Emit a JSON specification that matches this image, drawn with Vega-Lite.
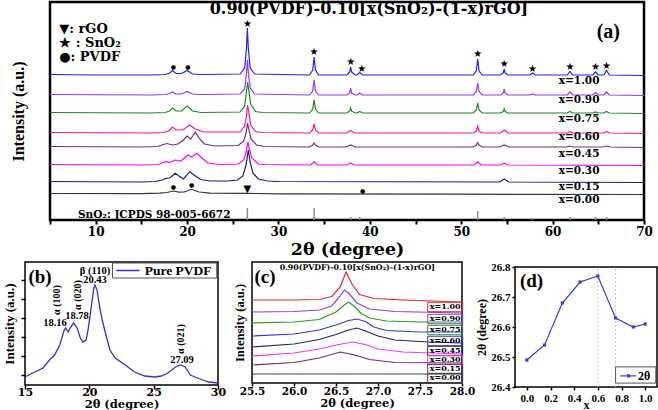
{
"$schema": "https://vega.github.io/schema/vega-lite/v6.json",
"width": 658, "height": 410, "autosize": "none", "padding": 0, "background": "white",
"config": {"view": {"stroke": null}, "axis": {"grid": false, "domain": false, "labelColor": "black", "titleColor": "black", "tickColor": "black", "labelFlush": false, "labelOverlap": false}},
"datasets": {
"a": [
{"s":"1.00","a":5,"v":145.5},{"s":"1.00","a":10,"v":145},{"s":"1.00","a":16,"v":145},{"s":"1.00","a":17.6,"v":145.5},{"s":"1.00","a":18.1,"v":147},{"s":"1.00","a":18.4,"v":149.5},{"s":"1.00","a":18.8,"v":146.5},{"s":"1.00","a":19.4,"v":146.5},{"s":"1.00","a":20.0,"v":149.5},{"s":"1.00","a":20.6,"v":146},{"s":"1.00","a":21.5,"v":145.5},{"s":"1.00","a":25.8,"v":146},{"s":"1.00","a":26.3,"v":152},{"s":"1.00","a":26.5,"v":172},{"s":"1.00","a":26.6,"v":192},{"s":"1.00","a":26.7,"v":172},{"s":"1.00","a":26.9,"v":152},{"s":"1.00","a":27.4,"v":146},{"s":"1.00","a":33.4,"v":145},{"s":"1.00","a":33.75,"v":150},{"s":"1.00","a":33.9,"v":163},{"s":"1.00","a":34.05,"v":150},{"s":"1.00","a":34.4,"v":145},{"s":"1.00","a":37.5,"v":145},{"s":"1.00","a":37.8,"v":148},{"s":"1.00","a":37.9,"v":153},{"s":"1.00","a":38.0,"v":148},{"s":"1.00","a":38.4,"v":145},{"s":"1.00","a":38.6,"v":145},{"s":"1.00","a":38.9,"v":147.5},{"s":"1.00","a":39.2,"v":145},{"s":"1.00","a":51.3,"v":145},{"s":"1.00","a":51.65,"v":149},{"s":"1.00","a":51.8,"v":161},{"s":"1.00","a":51.95,"v":149},{"s":"1.00","a":52.3,"v":145},{"s":"1.00","a":54.3,"v":145},{"s":"1.00","a":54.6,"v":147},{"s":"1.00","a":54.7,"v":151},{"s":"1.00","a":54.8,"v":147},{"s":"1.00","a":55.1,"v":145},{"s":"1.00","a":57.5,"v":145},{"s":"1.00","a":57.8,"v":147},{"s":"1.00","a":58.1,"v":145},{"s":"1.00","a":61.6,"v":145},{"s":"1.00","a":61.9,"v":148.5},{"s":"1.00","a":62.2,"v":145},{"s":"1.00","a":64.4,"v":145},{"s":"1.00","a":64.7,"v":148},{"s":"1.00","a":65.0,"v":145},{"s":"1.00","a":65.6,"v":145},{"s":"1.00","a":65.9,"v":149.5},{"s":"1.00","a":66.2,"v":145},{"s":"1.00","a":70,"v":144.5},
{"s":"0.90","a":5,"v":125.5},{"s":"0.90","a":16,"v":125},{"s":"0.90","a":17.6,"v":125.5},{"s":"0.90","a":18.1,"v":126.5},{"s":"0.90","a":18.4,"v":128},{"s":"0.90","a":18.8,"v":126},{"s":"0.90","a":19.4,"v":126},{"s":"0.90","a":20.0,"v":128.5},{"s":"0.90","a":20.6,"v":126},{"s":"0.90","a":21.5,"v":125.5},{"s":"0.90","a":25.8,"v":126},{"s":"0.90","a":26.3,"v":131},{"s":"0.90","a":26.5,"v":147},{"s":"0.90","a":26.6,"v":160},{"s":"0.90","a":26.7,"v":148},{"s":"0.90","a":26.9,"v":132},{"s":"0.90","a":27.4,"v":126},{"s":"0.90","a":33.4,"v":125},{"s":"0.90","a":33.75,"v":129},{"s":"0.90","a":33.9,"v":140},{"s":"0.90","a":34.05,"v":129},{"s":"0.90","a":34.4,"v":125},{"s":"0.90","a":37.5,"v":125},{"s":"0.90","a":37.8,"v":127},{"s":"0.90","a":37.9,"v":132},{"s":"0.90","a":38.0,"v":127},{"s":"0.90","a":38.4,"v":125},{"s":"0.90","a":38.6,"v":125},{"s":"0.90","a":38.9,"v":127},{"s":"0.90","a":39.2,"v":125},{"s":"0.90","a":51.3,"v":125},{"s":"0.90","a":51.65,"v":128.5},{"s":"0.90","a":51.8,"v":137},{"s":"0.90","a":51.95,"v":128.5},{"s":"0.90","a":52.3,"v":125},{"s":"0.90","a":54.3,"v":125},{"s":"0.90","a":54.6,"v":127},{"s":"0.90","a":54.7,"v":131},{"s":"0.90","a":54.8,"v":127},{"s":"0.90","a":55.1,"v":125},{"s":"0.90","a":57.5,"v":125},{"s":"0.90","a":57.8,"v":126},{"s":"0.90","a":58.1,"v":125},{"s":"0.90","a":61.6,"v":125},{"s":"0.90","a":61.9,"v":128},{"s":"0.90","a":62.2,"v":125},{"s":"0.90","a":64.4,"v":125},{"s":"0.90","a":64.7,"v":127.5},{"s":"0.90","a":65.0,"v":125},{"s":"0.90","a":65.6,"v":125},{"s":"0.90","a":65.9,"v":128},{"s":"0.90","a":66.2,"v":125},{"s":"0.90","a":70,"v":124.5},
{"s":"0.75","a":5,"v":107.5},{"s":"0.75","a":16,"v":107},{"s":"0.75","a":17.6,"v":107.5},{"s":"0.75","a":18.1,"v":109},{"s":"0.75","a":18.4,"v":112},{"s":"0.75","a":18.8,"v":109},{"s":"0.75","a":19.4,"v":109},{"s":"0.75","a":20.0,"v":114},{"s":"0.75","a":20.6,"v":109},{"s":"0.75","a":21.5,"v":107.5},{"s":"0.75","a":25.8,"v":108},{"s":"0.75","a":26.3,"v":114},{"s":"0.75","a":26.5,"v":128},{"s":"0.75","a":26.62,"v":138},{"s":"0.75","a":26.75,"v":130},{"s":"0.75","a":26.95,"v":116},{"s":"0.75","a":27.5,"v":108.5},{"s":"0.75","a":28.2,"v":107.5},{"s":"0.75","a":33.4,"v":107},{"s":"0.75","a":33.75,"v":111},{"s":"0.75","a":33.9,"v":120},{"s":"0.75","a":34.05,"v":111},{"s":"0.75","a":34.4,"v":107},{"s":"0.75","a":37.5,"v":107},{"s":"0.75","a":37.8,"v":109},{"s":"0.75","a":37.9,"v":112},{"s":"0.75","a":38.0,"v":109},{"s":"0.75","a":38.4,"v":107},{"s":"0.75","a":38.6,"v":107},{"s":"0.75","a":38.9,"v":108.5},{"s":"0.75","a":39.2,"v":107},{"s":"0.75","a":51.3,"v":107},{"s":"0.75","a":51.65,"v":110},{"s":"0.75","a":51.8,"v":117},{"s":"0.75","a":51.95,"v":110},{"s":"0.75","a":52.3,"v":107},{"s":"0.75","a":54.3,"v":107},{"s":"0.75","a":54.6,"v":108.5},{"s":"0.75","a":54.7,"v":111},{"s":"0.75","a":54.8,"v":108.5},{"s":"0.75","a":55.1,"v":107},{"s":"0.75","a":61.6,"v":107},{"s":"0.75","a":61.9,"v":108.5},{"s":"0.75","a":62.2,"v":107},{"s":"0.75","a":64.4,"v":107},{"s":"0.75","a":64.7,"v":108},{"s":"0.75","a":65.0,"v":107},{"s":"0.75","a":65.6,"v":107},{"s":"0.75","a":65.9,"v":108.5},{"s":"0.75","a":66.2,"v":107},{"s":"0.75","a":70,"v":106.5},
{"s":"0.60","a":5,"v":87.5},{"s":"0.60","a":16,"v":87},{"s":"0.60","a":17.4,"v":87.5},{"s":"0.60","a":18.0,"v":89},{"s":"0.60","a":18.4,"v":93},{"s":"0.60","a":18.8,"v":90},{"s":"0.60","a":19.5,"v":90},{"s":"0.60","a":20.3,"v":95},{"s":"0.60","a":20.9,"v":91},{"s":"0.60","a":21.8,"v":88},{"s":"0.60","a":25.8,"v":88},{"s":"0.60","a":26.3,"v":94},{"s":"0.60","a":26.5,"v":104},{"s":"0.60","a":26.62,"v":115},{"s":"0.60","a":26.75,"v":108},{"s":"0.60","a":26.95,"v":95},{"s":"0.60","a":27.5,"v":88.5},{"s":"0.60","a":28.2,"v":87.5},{"s":"0.60","a":33.4,"v":87},{"s":"0.60","a":33.75,"v":90},{"s":"0.60","a":33.9,"v":96},{"s":"0.60","a":34.05,"v":90},{"s":"0.60","a":34.4,"v":87},{"s":"0.60","a":37.5,"v":87},{"s":"0.60","a":37.9,"v":89.5},{"s":"0.60","a":38.3,"v":87},{"s":"0.60","a":51.3,"v":87},{"s":"0.60","a":51.65,"v":89},{"s":"0.60","a":51.8,"v":94},{"s":"0.60","a":51.95,"v":89},{"s":"0.60","a":52.3,"v":87},{"s":"0.60","a":54.3,"v":87},{"s":"0.60","a":54.7,"v":90},{"s":"0.60","a":55.1,"v":87},{"s":"0.60","a":61.6,"v":87},{"s":"0.60","a":61.9,"v":88.5},{"s":"0.60","a":62.2,"v":87},{"s":"0.60","a":65.6,"v":87},{"s":"0.60","a":65.9,"v":88.5},{"s":"0.60","a":66.2,"v":87},{"s":"0.60","a":70,"v":86.5},
{"s":"0.45","a":5,"v":73.5},{"s":"0.45","a":15,"v":73},{"s":"0.45","a":16.8,"v":73.5},{"s":"0.45","a":17.4,"v":75.5},{"s":"0.45","a":17.8,"v":76.5},{"s":"0.45","a":18.4,"v":75},{"s":"0.45","a":19.0,"v":76},{"s":"0.45","a":19.6,"v":80},{"s":"0.45","a":20.0,"v":84},{"s":"0.45","a":20.4,"v":81},{"s":"0.45","a":20.9,"v":88},{"s":"0.45","a":21.3,"v":82},{"s":"0.45","a":21.9,"v":76},{"s":"0.45","a":23,"v":74},{"s":"0.45","a":25.6,"v":74.5},{"s":"0.45","a":26.2,"v":79},{"s":"0.45","a":26.45,"v":87},{"s":"0.45","a":26.62,"v":97},{"s":"0.45","a":26.8,"v":89},{"s":"0.45","a":27.0,"v":81},{"s":"0.45","a":27.6,"v":75},{"s":"0.45","a":28.5,"v":73.5},{"s":"0.45","a":33.4,"v":73},{"s":"0.45","a":33.75,"v":75},{"s":"0.45","a":33.9,"v":77},{"s":"0.45","a":34.05,"v":75},{"s":"0.45","a":34.4,"v":73},{"s":"0.45","a":37.4,"v":73},{"s":"0.45","a":37.9,"v":75},{"s":"0.45","a":38.4,"v":73},{"s":"0.45","a":51.3,"v":73},{"s":"0.45","a":51.65,"v":75},{"s":"0.45","a":51.8,"v":77.3},{"s":"0.45","a":51.95,"v":75},{"s":"0.45","a":52.3,"v":73},{"s":"0.45","a":54.2,"v":73},{"s":"0.45","a":54.7,"v":75},{"s":"0.45","a":55.2,"v":73},{"s":"0.45","a":61.5,"v":73},{"s":"0.45","a":61.9,"v":74},{"s":"0.45","a":62.3,"v":73},{"s":"0.45","a":65.5,"v":73},{"s":"0.45","a":65.9,"v":74},{"s":"0.45","a":66.3,"v":73},{"s":"0.45","a":70,"v":72.5},
{"s":"0.30","a":5,"v":55.5},{"s":"0.30","a":15,"v":55},{"s":"0.30","a":16.8,"v":55.5},{"s":"0.30","a":17.4,"v":57.5},{"s":"0.30","a":17.7,"v":58.3},{"s":"0.30","a":18.1,"v":57.5},{"s":"0.30","a":18.7,"v":60},{"s":"0.30","a":19.3,"v":59},{"s":"0.30","a":20.1,"v":65},{"s":"0.30","a":20.5,"v":63},{"s":"0.30","a":21.1,"v":66.7},{"s":"0.30","a":21.6,"v":62},{"s":"0.30","a":22.3,"v":57},{"s":"0.30","a":23.5,"v":55.5},{"s":"0.30","a":25.6,"v":56},{"s":"0.30","a":26.2,"v":60},{"s":"0.30","a":26.45,"v":68},{"s":"0.30","a":26.65,"v":78},{"s":"0.30","a":26.85,"v":70},{"s":"0.30","a":27.1,"v":62},{"s":"0.30","a":27.8,"v":56},{"s":"0.30","a":28.6,"v":55.5},{"s":"0.30","a":33.5,"v":55},{"s":"0.30","a":33.9,"v":58.3},{"s":"0.30","a":34.3,"v":55},{"s":"0.30","a":37.5,"v":55},{"s":"0.30","a":37.9,"v":57},{"s":"0.30","a":38.3,"v":55},{"s":"0.30","a":51.4,"v":55},{"s":"0.30","a":51.8,"v":58.3},{"s":"0.30","a":52.2,"v":55},{"s":"0.30","a":54.3,"v":55},{"s":"0.30","a":54.7,"v":57},{"s":"0.30","a":55.1,"v":55},{"s":"0.30","a":70,"v":54.5},
{"s":"0.15","a":5,"v":38.5},{"s":"0.15","a":15,"v":38},{"s":"0.15","a":16.5,"v":38.5},{"s":"0.15","a":17.3,"v":40},{"s":"0.15","a":17.7,"v":41.7},{"s":"0.15","a":18.1,"v":42},{"s":"0.15","a":18.7,"v":46.7},{"s":"0.15","a":19.1,"v":44},{"s":"0.15","a":19.6,"v":41},{"s":"0.15","a":20.3,"v":48.3},{"s":"0.15","a":20.9,"v":44},{"s":"0.15","a":21.5,"v":40.5},{"s":"0.15","a":22.5,"v":39},{"s":"0.15","a":24.5,"v":39},{"s":"0.15","a":25.5,"v":40},{"s":"0.15","a":26.1,"v":44},{"s":"0.15","a":26.45,"v":55},{"s":"0.15","a":26.7,"v":70},{"s":"0.15","a":26.9,"v":58},{"s":"0.15","a":27.2,"v":47},{"s":"0.15","a":27.8,"v":41},{"s":"0.15","a":28.8,"v":39},{"s":"0.15","a":30,"v":38.5},{"s":"0.15","a":54.2,"v":38},{"s":"0.15","a":54.7,"v":41},{"s":"0.15","a":55.2,"v":38},{"s":"0.15","a":70,"v":37.5},
{"s":"0.00","a":5,"v":26.5},{"s":"0.00","a":15,"v":26.3},{"s":"0.00","a":17.0,"v":26.8},{"s":"0.00","a":17.8,"v":27.5},{"s":"0.00","a":18.5,"v":29},{"s":"0.00","a":19.1,"v":27.8},{"s":"0.00","a":19.7,"v":28},{"s":"0.00","a":20.5,"v":30.7},{"s":"0.00","a":21.3,"v":28},{"s":"0.00","a":22.5,"v":26.8},{"s":"0.00","a":26.6,"v":26.6},{"s":"0.00","a":30,"v":26.2},{"s":"0.00","a":50,"v":25.8},{"s":"0.00","a":70,"v":25.5}
],
"ams": [
{"a":26.6,"v":196,"m":"★"},{"a":33.9,"v":168,"m":"★"},{"a":37.9,"v":158,"m":"★"},{"a":39.1,"v":151,"m":"★"},{"a":51.8,"v":166,"m":"★"},{"a":54.7,"v":156,"m":"★"},{"a":57.8,"v":151,"m":"★"},{"a":61.9,"v":153,"m":"★"},{"a":64.7,"v":153,"m":"★"},{"a":65.9,"v":154,"m":"★"},{"a":26.6,"v":31,"m":"▼"}
],
"amd": [
{"a":18.5,"v":153,"m":"●"},{"a":20.1,"v":153,"m":"●"},{"a":18.5,"v":33,"m":"●"},{"a":20.5,"v":35,"m":"●"},{"a":39.2,"v":29.3,"m":"●"}
],
"ajc": [
{"a":26.6,"v":0,"h":12},{"a":33.9,"v":0,"h":12},{"a":37.9,"v":0,"h":3},{"a":38.9,"v":0,"h":3},{"a":51.8,"v":0,"h":9},{"a":54.7,"v":0,"h":3},{"a":57.8,"v":0,"h":2},{"a":61.9,"v":0,"h":3},{"a":64.7,"v":0,"h":3},{"a":65.9,"v":0,"h":3}
],
"al": [
{"a":62.9,"t":"x=1.00","v":139},{"a":62.9,"t":"x=0.90","v":120},{"a":62.9,"t":"x=0.75","v":101},{"a":62.9,"t":"x=0.60","v":83},{"a":62.9,"t":"x=0.45","v":66},{"a":62.9,"t":"x=0.30","v":49.3},{"a":62.9,"t":"x=0.15","v":33.3},{"a":62.9,"t":"x=0.00","v":20}
],
"aleg": [
{"a":6.0,"t":"▼: rGO","v":191},{"a":6.0,"t":"★ : SnO₂","v":177},{"a":6.0,"t":"●: PVDF","v":163}
],
"b": [
{"a":15.0,"v":8},{"a":15.6,"v":12},{"a":16.4,"v":17},{"a":16.9,"v":25},{"a":17.3,"v":30},{"a":17.7,"v":40},{"a":18.05,"v":55},{"a":18.16,"v":57},{"a":18.35,"v":53},{"a":18.5,"v":57},{"a":18.78,"v":62},{"a":19.05,"v":57},{"a":19.3,"v":47},{"a":19.5,"v":43},{"a":19.75,"v":45},{"a":19.9,"v":55},{"a":20.15,"v":78},{"a":20.35,"v":97},{"a":20.43,"v":100},{"a":20.6,"v":95},{"a":20.8,"v":78},{"a":21.0,"v":65},{"a":21.25,"v":52},{"a":21.6,"v":35},{"a":22.0,"v":27},{"a":22.8,"v":20},{"a":23.5,"v":13},{"a":24.3,"v":9},{"a":25.1,"v":8},{"a":25.6,"v":9},{"a":26.1,"v":12},{"a":26.7,"v":18},{"a":27.1,"v":20},{"a":27.45,"v":18},{"a":27.85,"v":10},{"a":28.2,"v":8},{"a":28.8,"v":5},{"a":29.3,"v":3},{"a":30.0,"v":2}
],
"bt": [
{"a":20.44,"v":114.5,"t":"β (110)"},{"a":20.44,"v":105,"t":"20.43"},{"a":17.33,"v":62,"t":"18.16"},{"a":19.04,"v":69,"t":"18.78"},{"a":27.2,"v":25,"t":"27.09"}
],
"br": [
{"a":17.45,"v":85,"t":"α (100)"},{"a":19.1,"v":90,"t":"α (020)"},{"a":27.12,"v":46,"t":"α (021)"}
],
"c": [
{"s":"1.00","a":25.5,"v":83},{"s":"1.00","a":26.0,"v":83},{"s":"1.00","a":26.3,"v":83.5},{"s":"1.00","a":26.45,"v":86.5},{"s":"1.00","a":26.55,"v":96},{"s":"1.00","a":26.62,"v":111},{"s":"1.00","a":26.69,"v":99},{"s":"1.00","a":26.78,"v":88.5},{"s":"1.00","a":26.95,"v":84.5},{"s":"1.00","a":27.3,"v":83},{"s":"1.00","a":28.0,"v":81},
{"s":"0.90","a":25.5,"v":71},{"s":"0.90","a":26.0,"v":71.5},{"s":"0.90","a":26.3,"v":73},{"s":"0.90","a":26.45,"v":77},{"s":"0.90","a":26.54,"v":86},{"s":"0.90","a":26.6,"v":93},{"s":"0.90","a":26.66,"v":89},{"s":"0.90","a":26.75,"v":80},{"s":"0.90","a":26.9,"v":74},{"s":"0.90","a":27.2,"v":71.5},{"s":"0.90","a":28.0,"v":70},
{"s":"0.75","a":25.5,"v":60},{"s":"0.75","a":26.0,"v":61},{"s":"0.75","a":26.3,"v":63.5},{"s":"0.75","a":26.5,"v":71},{"s":"0.75","a":26.6,"v":78},{"s":"0.75","a":26.65,"v":81},{"s":"0.75","a":26.72,"v":76.5},{"s":"0.75","a":26.8,"v":69.5},{"s":"0.75","a":26.9,"v":65},{"s":"0.75","a":27.1,"v":62},{"s":"0.75","a":27.5,"v":61},{"s":"0.75","a":28.0,"v":61},
{"s":"0.60","a":25.5,"v":47},{"s":"0.60","a":26.0,"v":49},{"s":"0.60","a":26.3,"v":53},{"s":"0.60","a":26.5,"v":58},{"s":"0.60","a":26.65,"v":62.5},{"s":"0.60","a":26.75,"v":64},{"s":"0.60","a":26.85,"v":61.5},{"s":"0.60","a":26.95,"v":56},{"s":"0.60","a":27.1,"v":52.5},{"s":"0.60","a":27.5,"v":51},{"s":"0.60","a":28.0,"v":51},
{"s":"0.45","a":25.5,"v":36},{"s":"0.45","a":26.0,"v":39},{"s":"0.45","a":26.3,"v":43.5},{"s":"0.45","a":26.5,"v":48.5},{"s":"0.45","a":26.65,"v":53},{"s":"0.45","a":26.75,"v":55},{"s":"0.45","a":26.85,"v":52},{"s":"0.45","a":27.0,"v":47},{"s":"0.45","a":27.2,"v":43},{"s":"0.45","a":27.6,"v":41},{"s":"0.45","a":28.0,"v":40},
{"s":"0.30","a":25.5,"v":27},{"s":"0.30","a":26.0,"v":30},{"s":"0.30","a":26.3,"v":34},{"s":"0.30","a":26.5,"v":38},{"s":"0.30","a":26.7,"v":41},{"s":"0.30","a":26.85,"v":38.5},{"s":"0.30","a":27.0,"v":34},{"s":"0.30","a":27.3,"v":31},{"s":"0.30","a":28.0,"v":29},
{"s":"0.15","a":25.5,"v":18},{"s":"0.15","a":26.0,"v":20.5},{"s":"0.15","a":26.3,"v":25},{"s":"0.15","a":26.55,"v":31},{"s":"0.15","a":26.7,"v":28.5},{"s":"0.15","a":26.9,"v":23.5},{"s":"0.15","a":27.2,"v":20.5},{"s":"0.15","a":28.0,"v":20},
{"s":"0.00","a":25.5,"v":9},{"s":"0.00","a":28.0,"v":9}
],
"cl": [
{"a":27.8,"s":"1.00","t":"x=1.00","v":76},{"a":27.8,"s":"0.90","t":"x=0.90","v":64},{"a":27.8,"s":"0.75","t":"x=0.75","v":53},{"a":27.8,"s":"0.60","t":"x=0.60","v":42},{"a":27.8,"s":"0.45","t":"x=0.45","v":32},{"a":27.8,"s":"0.30","t":"x=0.30","v":23},{"a":27.8,"s":"0.15","t":"x=0.15","v":14},{"a":27.8,"s":"0.00","t":"x=0.00","v":5}
],
"d": [
{"x":0.0,"v":26.49},{"x":0.15,"v":26.54},{"x":0.30,"v":26.68},{"x":0.45,"v":26.75},{"x":0.60,"v":26.77},{"x":0.75,"v":26.63},{"x":0.90,"v":26.60},{"x":1.00,"v":26.61}
]
},
"layer": [
{
"encoding": {
"x": {"field":"a","type":"quantitative","scale":{"domain":[5,70],"range":[50,644],"nice":false,"zero":false},
 "axis":{"orient":"bottom","offset":-190,"values":[5,10,15,20,25,30,35,40,45,50,55,60,65,70],"labelExpr":"datum.value % 10 == 0 ? datum.label : ''","tickSize":4,"tickWidth":2,"labelFont":"DejaVu Serif","labelFontWeight":"bold","labelFontSize":12,"labelPadding":2,"title":"2θ (degree)","titleFont":"DejaVu Serif","titleFontSize":17.5,"titleFontWeight":"bold","titlePadding":3}},
"y": {"field":"v","type":"quantitative","scale":{"domain":[0,218],"range":[220,2],"nice":false,"zero":false},
 "axis":{"orient":"left","offset":-50,"ticks":false,"labels":false,"title":"Intensity (a.u.)","titleFont":"Liberation Serif","titleFontSize":16,"titleFontWeight":"bold","titlePadding":24}}
},
"layer": [
{"data":{"values":[{"a":5,"a2":70,"v":0,"v2":218}]},"mark":{"type":"rect","fill":"white","fillOpacity":0,"stroke":"black","strokeWidth":2.5},
 "encoding":{"x2":{"field":"a2"},"y2":{"field":"v2"}}},
{"data":{"name":"ajc"},"mark":{"type":"rule","color":"#8a8a8a","strokeWidth":1.5},
 "encoding":{"y2":{"field":"h"}}},
{"data":{"name":"a"},"mark":{"type":"line","strokeWidth":1.2},
 "encoding":{"color":{"field":"s","type":"nominal","scale":{"domain":["1.00","0.90","0.75","0.60","0.45","0.30","0.15","0.00"],"range":["#1f1fff","#9b30ff","#1a8a1a","#ff1493","#7d2a7d","#ff00ff","#1a1a80","#333333"]},"legend":null}}},
{"data":{"name":"ams"},"mark":{"type":"text","font":"DejaVu Sans","fontSize":10,"align":"center","baseline":"middle","color":"black"},
 "encoding":{"text":{"field":"m"}}},
{"data":{"name":"amd"},"mark":{"type":"text","font":"DejaVu Sans","fontSize":6,"align":"center","baseline":"middle","color":"black"},
 "encoding":{"text":{"field":"m"}}},
{"data":{"name":"al"},"mark":{"type":"text","font":"DejaVu Serif","fontWeight":"bold","fontSize":10.5,"align":"center","baseline":"middle","color":"black"},
 "encoding":{"text":{"field":"t"}}},
{"data":{"name":"aleg"},"mark":{"type":"text","font":"DejaVu Serif","fontWeight":"bold","fontSize":13,"align":"left","baseline":"middle","color":"black"},
 "encoding":{"text":{"field":"t"}}},
{"data":{"values":[{"a":39.9,"v":211}]},"mark":{"type":"text","font":"DejaVu Serif","fontWeight":"bold","fontSize":16,"align":"center","baseline":"middle","color":"black","text":"0.90(PVDF)-0.10[x(SnO₂)-(1-x)rGO]"}},
{"data":{"values":[{"a":66.1,"v":188}]},"mark":{"type":"text","font":"Liberation Serif","fontWeight":"bold","fontSize":20,"align":"center","baseline":"middle","color":"black","text":"(a)"}},
{"data":{"values":[{"a":16.4,"v":5}]},"mark":{"type":"text","font":"DejaVu Serif","fontWeight":"bold","fontSize":10.5,"align":"center","baseline":"middle","color":"black","text":"SnO₂: JCPDS 98-005-6672"}}
]
},
{
"encoding": {
"x": {"field":"a","type":"quantitative","scale":{"domain":[15,30],"range":[25,218],"nice":false,"zero":false},
 "axis":{"orient":"bottom","offset":-25,"values":[15,20,25,30],"tickSize":4,"tickWidth":1.5,"labelFont":"DejaVu Serif","labelFontWeight":"bold","labelFontSize":11,"labelPadding":-3,"title":"2θ (degree)","titleFont":"DejaVu Serif","titleFontSize":11.5,"titleFontWeight":"bold","titleY":19.5,"titleBaseline":"middle"}},
"y": {"field":"v","type":"quantitative","scale":{"domain":[0,123],"range":[385,262],"nice":false,"zero":false},
 "axis":{"orient":"left","offset":-25,"values":[10,29,48,67,86,105],"tickSize":4,"tickWidth":1.5,"labels":false,"title":"Intensity (a.u.)","titleFont":"Liberation Serif","titleFontSize":13,"titleFontWeight":"bold","titlePadding":4}}
},
"layer": [
{"data":{"values":[{"a":15,"a2":30,"v":0,"v2":123}]},"mark":{"type":"rect","fill":"white","fillOpacity":0,"stroke":"black","strokeWidth":1.5},
 "encoding":{"x2":{"field":"a2"},"y2":{"field":"v2"}}},
{"data":{"name":"b"},"mark":{"type":"line","strokeWidth":1.3,"color":"#3a2bd4"}},
{"data":{"name":"bt"},"mark":{"type":"text","font":"Liberation Serif","fontWeight":"bold","fontSize":10.5,"align":"center","baseline":"middle","color":"black"},"encoding":{"text":{"field":"t"}}},
{"data":{"name":"br"},"mark":{"type":"text","font":"Liberation Serif","fontWeight":"bold","fontSize":10,"align":"center","baseline":"middle","angle":270,"color":"black"},"encoding":{"text":{"field":"t"}}},
{"data":{"values":[{"a":21.8,"a2":29.9,"v":107,"v2":122}]},"mark":{"type":"rect","fill":"white","stroke":"#555555","strokeWidth":1},
 "encoding":{"x2":{"field":"a2"},"y2":{"field":"v2"}}},
{"data":{"values":[{"a":22.1,"a2":23.9,"v":114.5}]},"mark":{"type":"rule","color":"#3a2bd4","strokeWidth":1.5},
 "encoding":{"x2":{"field":"a2"}}},
{"data":{"values":[{"a":24.3,"v":114.5}]},"mark":{"type":"text","font":"Liberation Serif","fontWeight":"bold","fontSize":13.5,"align":"left","baseline":"middle","color":"black","text":"Pure PVDF"}},
{"data":{"values":[{"a":16.17,"v":108}]},"mark":{"type":"text","font":"Liberation Serif","fontWeight":"bold","fontSize":19,"align":"center","baseline":"middle","color":"black","text":"(b)"}}
]
},
{
"encoding": {
"x": {"field":"a","type":"quantitative","scale":{"domain":[25.5,28],"range":[252,462],"nice":false,"zero":false},
 "axis":{"orient":"bottom","offset":-27,"values":[25.5,26,26.5,27,27.5,28],"format":".1f","tickSize":3,"tickWidth":1.5,"labelFont":"DejaVu Serif","labelFontWeight":"bold","labelFontSize":10.5,"labelPadding":0,"title":"2θ (degree)","titleFont":"DejaVu Serif","titleFontSize":11.5,"titleFontWeight":"bold","titleY":20,"titleBaseline":"middle"}},
"y": {"field":"v","type":"quantitative","scale":{"domain":[0,121],"range":[383,262],"nice":false,"zero":false},
 "axis":{"orient":"left","offset":-252,"ticks":false,"labels":false,"title":"Intensity (a.u.)","titleFont":"Liberation Serif","titleFontSize":12.5,"titleFontWeight":"bold","titlePadding":6}}
},
"layer": [
{"data":{"values":[{"a":25.5,"a2":28,"v":0,"v2":121}]},"mark":{"type":"rect","fill":"white","fillOpacity":0,"stroke":"black","strokeWidth":1.5},
 "encoding":{"x2":{"field":"a2"},"y2":{"field":"v2"}}},
{"data":{"name":"c"},"mark":{"type":"line","strokeWidth":1.2},
 "encoding":{"color":{"field":"s","type":"nominal","scale":{"domain":["1.00","0.90","0.75","0.60","0.45","0.30","0.15","0.00"],"range":["#e8262b","#8a3ce6","#2a9a2a","#3333dd","#23236e","#e83ee8","#6e2e6e","#444444"]},"legend":null}}},
{"data":{"name":"cl"},"mark":{"type":"point","shape":"M-1,-0.27H1V0.27H-1Z","size":1225,"filled":false,"strokeWidth":1,"opacity":1},
 "encoding":{"color":{"field":"s","type":"nominal","scale":{"domain":["1.00","0.90","0.75","0.60","0.45","0.30","0.15","0.00"],"range":["#e8262b","#8a3ce6","#2a9a2a","#3333dd","#23236e","#e83ee8","#6e2e6e","#444444"]},"legend":null}}},
{"data":{"name":"cl"},"mark":{"type":"text","font":"DejaVu Serif","fontWeight":"bold","fontSize":8,"align":"center","baseline":"middle","color":"black"},
 "encoding":{"text":{"field":"t"}}},
{"data":{"values":[{"a":25.83,"v":115}]},"mark":{"type":"text","font":"DejaVu Serif","fontWeight":"bold","fontSize":7.8,"align":"left","baseline":"middle","color":"black","text":"0.90(PVDF)-0.10[x(SnO₂)-(1-x)rGO]"}},
{"data":{"values":[{"a":25.655,"v":106}]},"mark":{"type":"text","font":"Liberation Serif","fontWeight":"bold","fontSize":19,"align":"center","baseline":"middle","color":"black","text":"(c)"}}
]
},
{
"encoding": {
"x": {"field":"x","type":"quantitative","scale":{"domain":[-0.1,1.1],"range":[515,657],"nice":false,"zero":false},
 "axis":{"orient":"bottom","offset":-23,"values":[0,0.2,0.4,0.6,0.8,1.0],"format":".1f","tickSize":3,"tickWidth":1.5,"labelFont":"Liberation Serif","labelFontWeight":"bold","labelFontSize":11,"labelPadding":2,"title":"x","titleFont":"Liberation Serif","titleFontSize":12,"titleFontWeight":"bold","titlePadding":-4}},
"y": {"field":"v","type":"quantitative","scale":{"domain":[26.4,26.8],"range":[387,267],"nice":false,"zero":false},
 "axis":{"orient":"left","offset":-515,"values":[26.4,26.5,26.6,26.7,26.8],"format":".1f","tickSize":3,"tickWidth":1.5,"labelFont":"Liberation Serif","labelFontWeight":"bold","labelFontSize":11,"labelPadding":2,"title":"2θ (degree)","titleFont":"Liberation Serif","titleFontSize":12,"titleFontWeight":"bold","titlePadding":2}}
},
"layer": [
{"data":{"values":[{"x":-0.1,"x2":1.1,"v":26.4,"v2":26.8}]},"mark":{"type":"rect","fill":"white","fillOpacity":0,"stroke":"black","strokeWidth":1.5},
 "encoding":{"x2":{"field":"x2"},"y2":{"field":"v2"}}},
{"data":{"values":[{"x":0.6,"v":26.4,"v2":26.8},{"x":0.75,"v":26.4,"v2":26.8}]},"mark":{"type":"rule","color":"#c8c8c8","strokeWidth":1,"strokeDash":[2,2]},
 "encoding":{"y2":{"field":"v2"}}},
{"data":{"name":"d"},"mark":{"type":"line","strokeWidth":1.2,"color":"#3c3cd2"}},
{"data":{"name":"d"},"mark":{"type":"point","shape":"square","filled":true,"size":10,"color":"#3c3cd2","opacity":1}},
{"data":{"values":[{"x":0.75,"x2":1.09,"v":26.413,"v2":26.467}]},"mark":{"type":"rect","fill":"white","stroke":"#555555","strokeWidth":1},
 "encoding":{"x2":{"field":"x2"},"y2":{"field":"v2"}}},
{"data":{"values":[{"x":0.79,"x2":0.925,"v":26.437}]},"mark":{"type":"rule","color":"#3c3cd2","strokeWidth":1.2},
 "encoding":{"x2":{"field":"x2"}}},
{"data":{"values":[{"x":0.86,"v":26.437}]},"mark":{"type":"point","shape":"square","filled":true,"size":10,"color":"#3c3cd2","opacity":1}},
{"data":{"values":[{"x":0.94,"v":26.437}]},"mark":{"type":"text","font":"Liberation Serif","fontWeight":"bold","fontSize":12,"align":"left","baseline":"middle","color":"black","text":"2θ"}},
{"data":{"values":[{"x":0.04,"v":26.755}]},"mark":{"type":"text","font":"Liberation Serif","fontWeight":"bold","fontSize":19,"align":"center","baseline":"middle","color":"black","text":"(d)"}}
]
}
],
"resolve": {"scale": {"x": "independent", "y": "independent", "color": "independent"}}
}
